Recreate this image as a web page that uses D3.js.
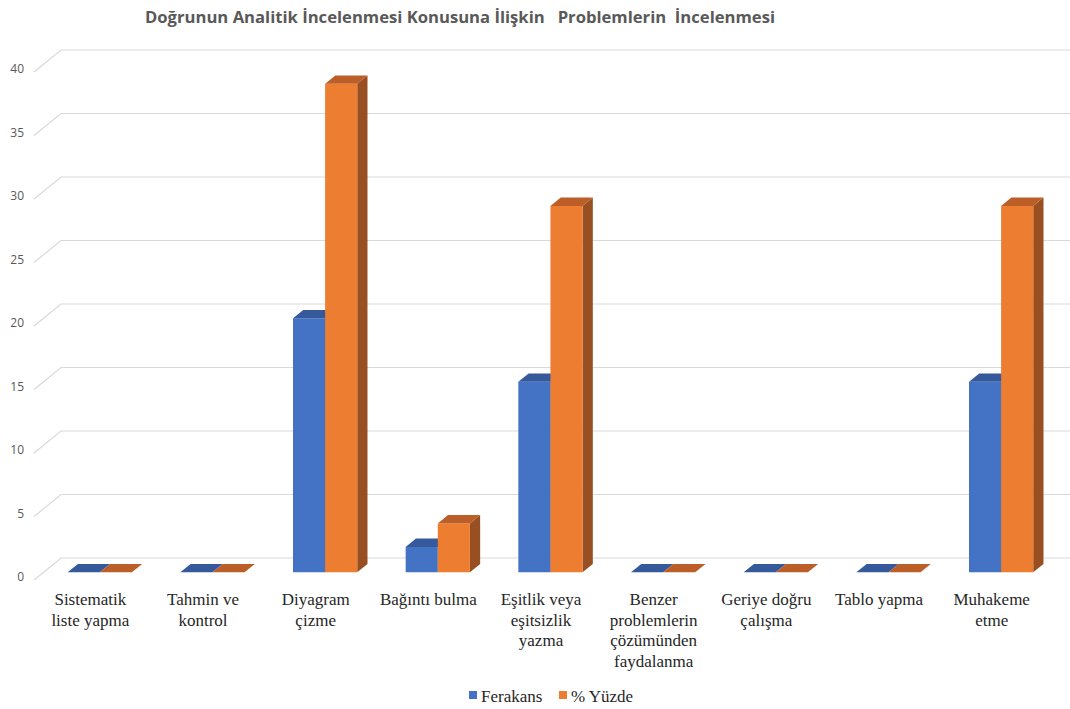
<!DOCTYPE html>
<html>
<head>
<meta charset="utf-8">
<script src="https://cdn.jsdelivr.net/npm/d3@7"></script>
<style>
  html, body { margin: 0; padding: 0; background: #ffffff; }
  svg { display: block; }
</style>
</head>
<body>
<svg id="chart" width="1070" height="709"></svg>
<script>
// Problem-solving strategies seen in the problems
const categories = [
  ["Sistematik", "liste yapma"],
  ["Tahmin ve", "kontrol"],
  ["Diyagram", "çizme"],
  ["Bağıntı bulma"],
  ["Eşitlik veya", "eşitsizlik", "yazma"],
  ["Benzer", "problemlerin", "çözümünden", "faydalanma"],
  ["Geriye doğru", "çalışma"],
  ["Tablo yapma"],
  ["Muhakeme", "etme"]
];
const frequency = [0, 0, 20, 2, 15, 0, 0, 0, 15];
const percent = [0, 0, 38.46, 3.85, 28.85, 0, 0, 0, 28.85];
const seriesNames = ["Ferakans", "% Yüzde"];
const yTicks = [0, 5, 10, 15, 20, 25, 30, 35, 40];
const title = "Doğrunun Analitik İncelenmesi Konusuna İlişkin   Problemlerin  İncelenmesi";

const svg = d3.select("#chart");

// Oblique 3D projection: depth z in [0,1] shifts points right and up
const depth = { dx: 27, dy: -22 };
const wallX0 = 34;
const plotW = 1014;
const y = d3.scaleLinear().domain([0, 40]).range([580, 72]);
const proj = (x, v, z) => [x + depth.dx * z, y(v) + depth.dy * z];

const barZ0 = 0.35, barZ1 = 0.73;
const catKeys = categories.map((c, i) => i);
const x0 = d3.scaleBand().domain(catKeys)
  .range([wallX0, wallX0 + plotW])
  .paddingInner(0.43).paddingOuter(0.215);
const x1 = d3.scaleBand().domain([0, 1]).range([0, x0.bandwidth()]);

const palettes = [
  { front: "#4472c4", top: "#35599a", side: "#2c4b84" },
  { front: "#ed7d31", top: "#bc5e28", side: "#984f22" }
];

// Back wall gridlines and left-side diagonals
const grid = svg.append("g");
yTicks.forEach(t => {
  const a = proj(wallX0, t, 0), b = proj(wallX0, t, 1), c = proj(wallX0 + plotW, t, 1);
  grid.append("path")
    .attr("d", `M${a[0]},${a[1]}L${b[0]},${b[1]}L${c[0]},${c[1]}`)
    .attr("fill", "none").attr("stroke", "#d9d9d9").attr("stroke-width", 1.2);
});

// Y axis tick labels
svg.append("g").selectAll("text").data(yTicks).join("text")
  .attr("x", 24).attr("y", d => y(d) - 2)
  .attr("text-anchor", "end").attr("dominant-baseline", "middle")
  .attr("font-family", "Open Sans, sans-serif").attr("font-size", 12)
  .attr("fill", "#595959").text(d => d);

// 3D bars
const series = [frequency, percent];
const bars = svg.append("g");
catKeys.forEach(i => {
  series.forEach((vals, s) => {
    const v = vals[i];
    const xl = x0(i) + x1(s), xr = xl + x1.bandwidth();
    const p = palettes[s];
    const fl0 = proj(xl, 0, barZ0), fr0 = proj(xr, 0, barZ0);
    const flv = proj(xl, v, barZ0), frv = proj(xr, v, barZ0);
    const blv = proj(xl, v, barZ1), brv = proj(xr, v, barZ1);
    const br0 = proj(xr, 0, barZ1);
    const g = bars.append("g");
    // side face
    g.append("path")
      .attr("d", `M${fr0}L${frv}L${brv}L${br0}Z`)
      .attr("fill", p.side);
    // front face
    if (v > 0) {
      g.append("path")
        .attr("d", `M${fl0}L${flv}L${frv}L${fr0}Z`)
        .attr("fill", p.front);
    }
    // top face
    g.append("path")
      .attr("d", `M${flv}L${frv}L${brv}L${blv}Z`)
      .attr("fill", p.top);
  });
});

// Category labels
const labels = svg.append("g")
  .attr("font-family", "Liberation Serif, Times New Roman, serif")
  .attr("font-size", 17).attr("fill", "#262626").attr("text-anchor", "middle");
categories.forEach((lines, i) => {
  const cx = x0(i) + x0.bandwidth() / 2;
  const t = labels.append("text").attr("x", cx).attr("y", 605);
  lines.forEach((ln, k) => {
    t.append("tspan").attr("x", cx).attr("dy", k === 0 ? 0 : 20.5).text(ln);
  });
});

// Title
svg.append("text")
  .attr("x", 145).attr("y", 23)
  .attr("font-family", "Open Sans, sans-serif").attr("font-weight", "bold")
  .attr("font-size", 16).attr("fill", "#595959")
  .attr("textLength", 630).attr("lengthAdjust", "spacingAndGlyphs")
  .style("white-space", "pre")
  .text(title);

// Legend
const legend = svg.append("g")
  .attr("font-family", "Liberation Serif, Times New Roman, serif")
  .attr("font-size", 17).attr("fill", "#262626");
const legendX = [469, 559];
seriesNames.forEach((name, s) => {
  legend.append("rect").attr("x", legendX[s]).attr("y", 691)
    .attr("width", 8).attr("height", 8).attr("fill", palettes[s].front);
  legend.append("text").attr("x", legendX[s] + 12).attr("y", 702).text(name);
});
</script>
</body>
</html>
